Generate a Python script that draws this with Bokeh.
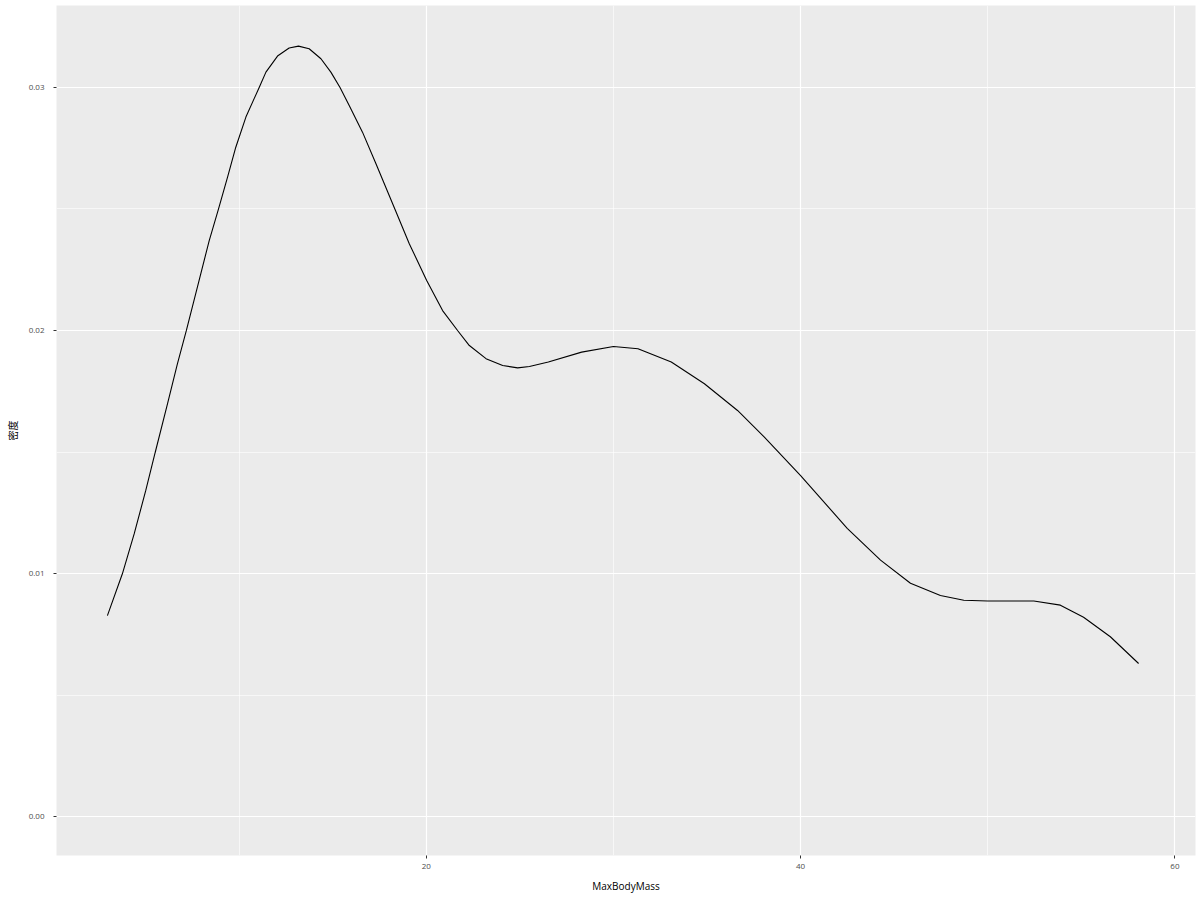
from bokeh.plotting import figure
from bokeh.models import Range1d, FixedTicker, CustomJSTickFormatter
from bokeh.embed import file_html
from bokeh.resources import INLINE

# Density curve (MaxBodyMass vs density)
mass = [2.96, 3.76, 4.39, 5.01, 5.51, 6.17, 6.70, 7.18, 7.86, 8.40, 8.89, 9.38, 9.82,
        10.36, 11.07, 11.43, 12.05, 12.67, 13.17, 13.74, 14.37, 14.90, 15.39, 15.88,
        16.59, 17.31, 18.33, 19.09, 20.02, 20.87, 21.67, 22.30, 23.19, 24.08, 24.88,
        25.51, 26.52, 28.30, 30.0, 31.31, 33.09, 34.86, 36.63, 38.05, 40.0, 42.49,
        44.27, 45.87, 47.47, 48.72, 50.0, 52.46, 53.88, 55.12, 56.55, 58.06]
density = [0.00827, 0.00999, 0.01163, 0.01342, 0.01497, 0.01698, 0.01863, 0.0200,
           0.02206, 0.0237, 0.02498, 0.02631, 0.02754, 0.02878, 0.0300, 0.03063,
           0.03129, 0.03162, 0.0317, 0.03159, 0.03118, 0.03063, 0.0300, 0.02926,
           0.02816, 0.02686, 0.02498, 0.02357, 0.02206, 0.02082, 0.0200, 0.01938,
           0.01884, 0.01856, 0.01846, 0.01852, 0.0187, 0.01911, 0.01934, 0.01925,
           0.0187, 0.01781, 0.01671, 0.01562, 0.01403, 0.01186, 0.01055, 0.0096,
           0.0091, 0.0089, 0.00887, 0.00887, 0.0087, 0.0082, 0.0074, 0.0063]

x_ticks = [20, 40, 60]
x_minor = [10, 30, 50]
y_ticks = [0.0, 0.01, 0.02, 0.03]
y_minor = [0.005, 0.015, 0.025]
x_title = "MaxBodyMass"
y_title = "密度"

p = figure(width=1197, height=898, output_backend="svg", toolbar_location=None,
           x_range=Range1d(0.24, 61.1), y_range=Range1d(-0.0016, 0.03337),
           min_border_left=56, min_border_right=2, min_border_top=5, min_border_bottom=43)
p.background_fill_color = "#EBEBEB"
p.border_fill_color = "white"
p.outline_line_color = None

p.line(mass, density, line_color="black", line_width=1.1)

p.xaxis.ticker = FixedTicker(ticks=x_ticks, minor_ticks=x_minor)
p.yaxis.ticker = FixedTicker(ticks=y_ticks, minor_ticks=y_minor)
p.yaxis.formatter = CustomJSTickFormatter(code="return tick.toFixed(2);")

for g in (p.xgrid, p.ygrid):
    g.grid_line_color = "white"
    g.grid_line_width = 1.2
    g.minor_grid_line_color = "white"
    g.minor_grid_line_width = 0.6

for ax in (p.xaxis, p.yaxis):
    ax.axis_line_color = None
    ax.major_tick_line_color = "#333333"
    ax.major_tick_in = 0
    ax.major_tick_out = 3
    ax.minor_tick_line_color = None
    ax.major_label_text_font = "Open Sans"
    ax.major_label_text_font_size = "8px"
    ax.major_label_text_color = "#4D4D4D"
    ax.axis_label_text_font_style = "normal"
    ax.axis_label_text_color = "black"
    ax.axis_label_text_font_size = "10px"

p.xaxis.major_label_standoff = 4
p.yaxis.major_label_standoff = 8
p.xaxis.axis_label = x_title
p.xaxis.axis_label_text_font = "Open Sans"
p.xaxis.axis_label_standoff = 7
p.yaxis.axis_label = y_title
p.yaxis.axis_label_text_font = "Noto Sans CJK SC"
p.yaxis.axis_label_standoff = 6

open("out.html", "w").write(file_html(p, INLINE))
